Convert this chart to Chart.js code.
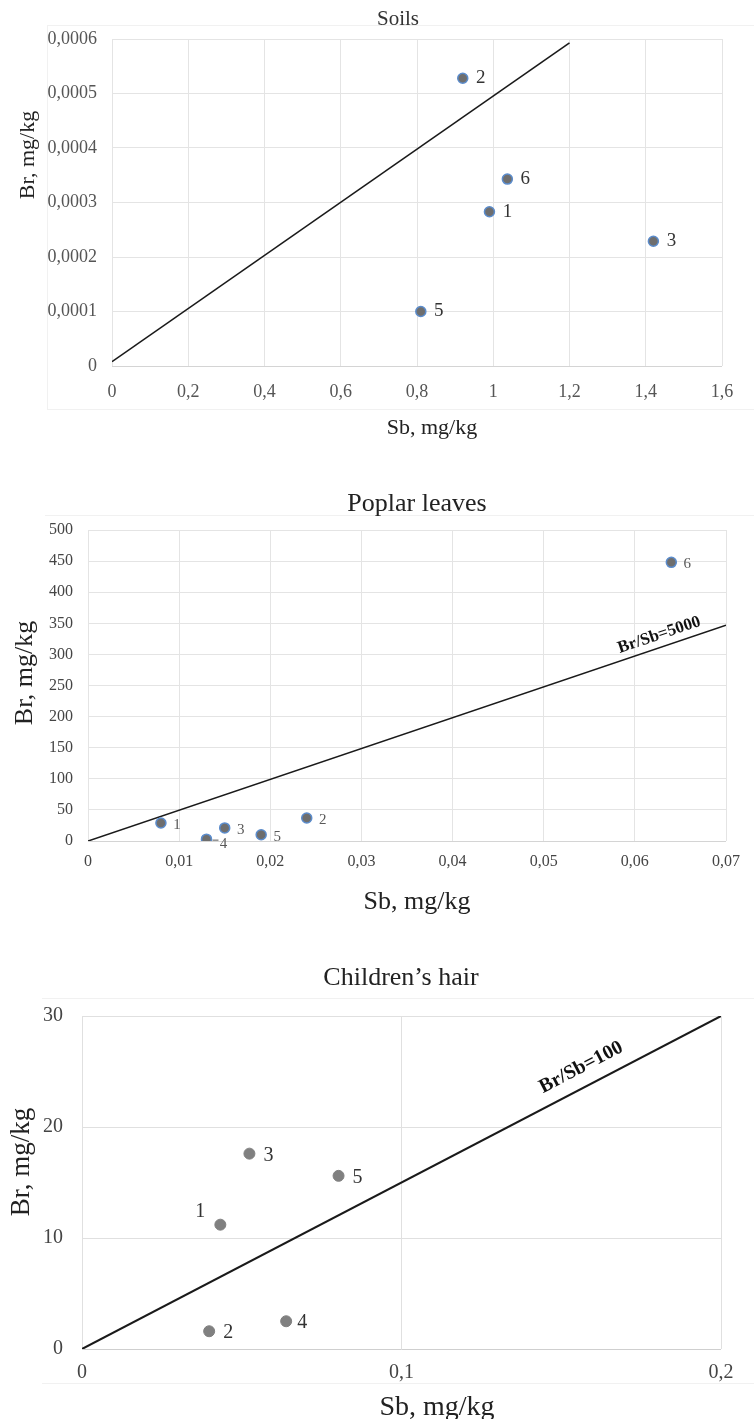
<!DOCTYPE html>
<html>
<head>
<meta charset="utf-8">
<script src="https://cdn.jsdelivr.net/npm/chart.js@4.4.1/dist/chart.umd.min.js"></script>
<style>
  html, body { margin: 0; padding: 0; background: #fff; }
  #page { position: relative; width: 754px; height: 1419px; overflow: hidden; }
  .panel { position: absolute; left: 0; }
  .frame { position: absolute; border: 1px solid #f1f1f1; }
</style>
</head>
<body>
<div id="page">
  <div class="frame" style="left:47px;top:25px;width:720px;height:383px;"></div>
  <div class="frame" style="left:45px;top:515px;width:720px;height:0;border-width:1px 0 0 0;"></div>
  <div class="frame" style="left:42px;top:998px;width:720px;height:384px;border-width:1px 0 1px 0;"></div>
  <canvas id="soils" class="panel" style="top:0" width="754" height="450"></canvas>
  <canvas id="poplar" class="panel" style="top:470px" width="754" height="450"></canvas>
  <canvas id="hair" class="panel" style="top:940px" width="754" height="479"></canvas>
</div>
<script>
const FONT = "'Liberation Serif', 'Times New Roman', serif";

// Soils
const soilNames = ['1', '2', '3', '5', '6'];
const soilSb = [0.99, 0.92, 1.42, 0.81, 1.037];
const soilBr = [0.000283, 0.000528, 0.000229, 0.0001, 0.000343];
const soilLineSb = [0, 1.2];
const soilLineBr = [0.000008, 0.000593];
const soilXTicks = [0, 0.2, 0.4, 0.6, 0.8, 1, 1.2, 1.4, 1.6];
const soilYTicks = [0, 0.0001, 0.0002, 0.0003, 0.0004, 0.0005, 0.0006];

// Poplar leaves
const poplarNames = ['1', '2', '3', '4', '5', '6'];
const poplarSb = [0.008, 0.024, 0.015, 0.013, 0.019, 0.064];
const poplarBr = [29, 37, 21, 3, 10, 448];
const poplarLineSb = [0, 0.07];
const poplarLineBr = [0, 347];
const poplarXTicks = [0, 0.01, 0.02, 0.03, 0.04, 0.05, 0.06, 0.07];
const poplarYTicks = [0, 50, 100, 150, 200, 250, 300, 350, 400, 450, 500];

// Children's hair
const hairNames = ['1', '2', '3', '4', '5'];
const hairSb = [0.0433, 0.0398, 0.0524, 0.0639, 0.0803];
const hairBr = [11.2, 1.6, 17.6, 2.5, 15.6];
const hairLineSb = [0, 0.2];
const hairLineBr = [0, 30];
const hairXTicks = [0, 0.1, 0.2];
const hairYTicks = [0, 10, 20, 30];

const fmt = v => v === 0 ? '0' : String(+Number(v).toFixed(6)).replace('.', ',');
const pts = (xs, ys) => xs.map((x, i) => ({ x, y: ys[i] }));

// free text (titles, axis names)
const textPlugin = {
  id: 'texts',
  afterDraw(chart, args, opts) {
    const ctx = chart.ctx;
    (opts.items || []).forEach(t => {
      ctx.save();
      ctx.translate(t.x, t.y);
      if (t.rot) ctx.rotate(t.rot * Math.PI / 180);
      ctx.font = t.font;
      ctx.fillStyle = t.color || '#222';
      ctx.textAlign = 'center';
      ctx.textBaseline = 'middle';
      ctx.fillText(t.text, 0, 0);
      ctx.restore();
    });
  }
};

// numbers next to the points
const pointLabels = {
  id: 'pointLabels',
  afterDatasetsDraw(chart, args, opts) {
    if (!opts.font) return;
    const ctx = chart.ctx;
    const names = chart.data.datasets[0].names;
    ctx.save();
    ctx.font = opts.font;
    ctx.fillStyle = opts.color;
    ctx.textAlign = 'center';
    ctx.textBaseline = 'middle';
    chart.getDatasetMeta(0).data.forEach((pt, i) => {
      const off = (opts.offsets && opts.offsets[names[i]]) || opts.offset;
      if (opts.leaders && opts.leaders.includes(names[i])) {
        ctx.strokeStyle = opts.color;
        ctx.lineWidth = 1;
        ctx.beginPath();
        ctx.moveTo(pt.x + 6, pt.y + 1);
        ctx.lineTo(pt.x + off[0] - 5, pt.y + 1);
        ctx.stroke();
      }
      ctx.fillText(names[i], pt.x + off[0], pt.y + off[1]);
    });
    ctx.restore();
  }
};

// rotated label sitting on the ratio line
const ratioLabel = {
  id: 'ratioLabel',
  afterDatasetsDraw(chart, args, opts) {
    if (!opts.text) return;
    const line = chart.getDatasetMeta(1).data;
    const a = line[0], b = line[line.length - 1];
    const ang = Math.atan2(b.y - a.y, b.x - a.x);
    const px = chart.scales.x.getPixelForValue(opts.at);
    const py = a.y + (px - a.x) / (b.x - a.x) * (b.y - a.y);
    const ctx = chart.ctx;
    ctx.save();
    ctx.translate(px, py);
    ctx.rotate(ang);
    ctx.font = opts.font;
    ctx.fillStyle = '#111';
    ctx.textAlign = 'center';
    ctx.textBaseline = 'middle';
    ctx.fillText(opts.text, 0, -opts.lift);
    ctx.restore();
  }
};

function makeChart(id, o) {
  const gridColor = c => c.tick && c.tick.value === 0 ? o.zeroColor : o.gridColor;
  return new Chart(document.getElementById(id), {
    type: 'scatter',
    data: {
      datasets: [
        {
          data: pts(o.sb, o.br), names: o.names,
          pointRadius: o.radius, pointHoverRadius: o.radius,
          backgroundColor: o.fill, borderColor: o.stroke, borderWidth: o.strokeWidth,
        },
        {
          data: pts(o.lineSb, o.lineBr), showLine: true, pointRadius: 0,
          borderColor: '#1a1a1a', borderWidth: o.lineWidth, fill: false,
        },
      ],
    },
    options: {
      responsive: false, animation: false, events: [],
      layout: { padding: { top: o.top, right: o.right, left: 0, bottom: 0 } },
      plugins: {
        legend: { display: false }, tooltip: { enabled: false },
        texts: { items: o.texts },
        pointLabels: o.labels,
        ratioLabel: o.ratio || {},
      },
      scales: {
        x: {
          type: 'linear', min: o.xTicks[0], max: o.xTicks[o.xTicks.length - 1],
          afterBuildTicks: s => { s.ticks = o.xTicks.map(v => ({ value: v })); },
          afterFit: s => { s.height = o.xHeight; },
          ticks: { padding: o.xPad, color: o.tickColor, font: { family: FONT, size: o.tickSize }, callback: fmt, maxRotation: 0, autoSkip: false },
          grid: { color: o.gridColor, drawTicks: false, lineWidth: 1 },
          border: { display: false },
        },
        y: {
          type: 'linear', min: o.yTicks[0], max: o.yTicks[o.yTicks.length - 1],
          afterBuildTicks: s => { s.ticks = o.yTicks.map(v => ({ value: v })); },
          afterFit: s => { s.width = o.yWidth; },
          ticks: { padding: o.yPad, color: o.tickColor, font: { family: FONT, size: o.tickSize }, callback: fmt, autoSkip: false },
          grid: { color: gridColor, drawTicks: false, lineWidth: 1 },
          border: { display: false },
        },
      },
    },
    plugins: [textPlugin, pointLabels, ratioLabel],
  });
}

makeChart('soils', {
  names: soilNames, sb: soilSb, br: soilBr, lineSb: soilLineSb, lineBr: soilLineBr,
  xTicks: soilXTicks, yTicks: soilYTicks,
  top: 39, right: 32, yWidth: 112, xHeight: 84, xPad: 15, yPad: 15,
  tickSize: 18, tickColor: '#555', gridColor: '#e4e4e4', zeroColor: '#d4d4d4',
  radius: 5, fill: '#6e6e6e', stroke: '#5b8ccc', strokeWidth: 1.5, lineWidth: 1.6,
  labels: { font: `19px ${FONT}`, color: '#333', offset: [18, 0] },
  texts: [
    { text: 'Soils', x: 398, y: 19, font: `21px ${FONT}`, color: '#333' },
    { text: 'Br, mg/kg', x: 28, y: 155, rot: -90, font: `22px ${FONT}`, color: '#222' },
    { text: 'Sb, mg/kg', x: 432, y: 428, font: `22px ${FONT}`, color: '#222' },
  ],
});

makeChart('poplar', {
  names: poplarNames, sb: poplarSb, br: poplarBr, lineSb: poplarLineSb, lineBr: poplarLineBr,
  xTicks: poplarXTicks, yTicks: poplarYTicks,
  top: 60, right: 28, yWidth: 88, xHeight: 79, xPad: 11, yPad: 15,
  tickSize: 16, tickColor: '#444', gridColor: '#e4e4e4', zeroColor: '#d4d4d4',
  radius: 5, fill: '#6e6e6e', stroke: '#5b8ccc', strokeWidth: 1.5, lineWidth: 1.6,
  labels: { font: `15px ${FONT}`, color: '#595959', offset: [16, 2], offsets: { '4': [17, 5] }, leaders: ['4'] },
  ratio: { text: 'Br/Sb=5000', at: 0.0631, lift: 12, font: `bold 17px ${FONT}` },
  texts: [
    { text: 'Poplar leaves', x: 417, y: 34, font: `26px ${FONT}`, color: '#222' },
    { text: 'Br, mg/kg', x: 25, y: 203, rot: -90, font: `26px ${FONT}`, color: '#222' },
    { text: 'Sb, mg/kg', x: 417, y: 432, font: `26px ${FONT}`, color: '#222' },
  ],
});

makeChart('hair', {
  names: hairNames, sb: hairSb, br: hairBr, lineSb: hairLineSb, lineBr: hairLineBr,
  xTicks: hairXTicks, yTicks: hairYTicks,
  top: 76, right: 33, yWidth: 82, xHeight: 70, xPad: 12, yPad: 19,
  tickSize: 20, tickColor: '#444', gridColor: '#e0e0e0', zeroColor: '#cfcfcf',
  radius: 5.5, fill: '#808080', stroke: '#808080', strokeWidth: 1, lineWidth: 2,
  labels: { font: `20px ${FONT}`, color: '#333', offset: [19, 2], offsets: { '1': [-20, -13], '4': [16, 1] } },
  ratio: { text: 'Br/Sb=100', at: 0.159, lift: 19, font: `bold 20px ${FONT}` },
  texts: [
    { text: 'Children\u2019s hair', x: 401, y: 38, font: `26px ${FONT}`, color: '#222' },
    { text: 'Br, mg/kg', x: 22, y: 222, rot: -90, font: `27px ${FONT}`, color: '#222' },
    { text: 'Sb, mg/kg', x: 437, y: 468, font: `28px ${FONT}`, color: '#222' },
  ],
});
</script>
</body>
</html>
